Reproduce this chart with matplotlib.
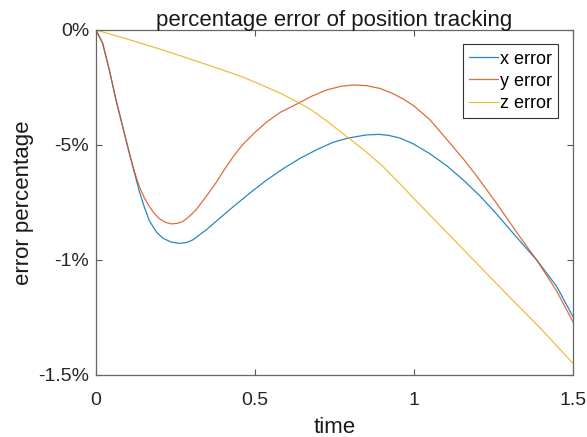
import numpy as np
import matplotlib
matplotlib.use('Agg')
import matplotlib.pyplot as plt

plt.rcParams['font.family'] = ['Liberation Sans', 'DejaVu Sans']

# values (time, error as fraction shown on the axis)
t_x = [0, 0.021, 0.042, 0.063, 0.084, 0.105, 0.12, 0.136, 0.152, 0.168, 0.19, 0.21, 0.236, 0.262,
       0.285, 0.304, 0.346, 0.377, 0.432, 0.485, 0.537, 0.59, 0.642, 0.695, 0.746, 0.793, 0.851,
       0.89, 0.92, 0.956, 0.998, 1.05, 1.103, 1.155, 1.208, 1.26, 1.312, 1.386, 1.449, 1.5]
x_err = [0, -0.058, -0.174, -0.304, -0.42, -0.536, -0.615, -0.7, -0.77, -0.83, -0.878, -0.905, -0.922, -0.928,
         -0.924, -0.913, -0.87, -0.833, -0.768, -0.708, -0.652, -0.602, -0.558, -0.52, -0.488, -0.47, -0.456,
         -0.454, -0.458, -0.47, -0.495, -0.538, -0.59, -0.652, -0.722, -0.80, -0.884, -1.0, -1.115, -1.246]

t_y = [0, 0.021, 0.042, 0.063, 0.084, 0.105, 0.12, 0.136, 0.152, 0.168, 0.185, 0.199, 0.218, 0.236,
       0.255, 0.273, 0.294, 0.314, 0.335, 0.356, 0.377, 0.40, 0.432, 0.46, 0.50, 0.537, 0.58, 0.636,
       0.68, 0.725, 0.77, 0.809, 0.85, 0.893, 0.93, 0.966, 1.0, 1.05, 1.1, 1.155, 1.2, 1.26,
       1.333, 1.386, 1.449, 1.5]
y_err = [0, -0.058, -0.174, -0.304, -0.42, -0.536, -0.612, -0.68, -0.73, -0.768, -0.80, -0.82, -0.836, -0.843,
         -0.841, -0.833, -0.81, -0.783, -0.745, -0.706, -0.665, -0.615, -0.55, -0.50, -0.445, -0.40, -0.358, -0.319,
         -0.287, -0.261, -0.245, -0.239, -0.242, -0.254, -0.274, -0.30, -0.33, -0.39, -0.47, -0.56, -0.64, -0.754,
         -0.899, -1.0, -1.135, -1.268]

t_z = [0, 0.1, 0.189, 0.25, 0.3, 0.39, 0.453, 0.516, 0.58, 0.636, 0.68, 0.725, 0.793, 0.85,
       0.9, 0.95, 1.0, 1.1, 1.2, 1.3, 1.4, 1.5]
z_err = [0, -0.04, -0.078, -0.105, -0.128, -0.17, -0.2, -0.236, -0.275, -0.315, -0.35, -0.395, -0.468, -0.53,
         -0.59, -0.66, -0.733, -0.875, -1.018, -1.16, -1.30, -1.449]

yticks = [0, -0.5, -1, -1.5]
ytick_labels = ['0%', '-5%', '-1%', '-1.5%']
xticks = [0, 0.5, 1, 1.5]
xtick_labels = ['0', '0.5', '1', '1.5']

fig = plt.figure(figsize=(5.87, 4.37), dpi=100)
ax = fig.add_axes([0.1635, 0.1419, 0.8125, 0.7895])

ax.plot(t_x, x_err, color='#0072BD', lw=0.9, alpha=0.85, label='x error')
ax.plot(t_y, y_err, color='#D95319', lw=0.9, alpha=0.85, label='y error')
ax.plot(t_z, z_err, color='#EDB120', lw=0.9, alpha=0.85, label='z error')

ax.set_xlim(0, 1.5)
ax.set_ylim(-1.5, 0)
ax.set_xticks(xticks)
ax.set_xticklabels(xtick_labels)
ax.set_yticks(yticks)
ax.set_yticklabels(ytick_labels)
ax.tick_params(direction='in', length=4, width=0.8, colors='#555555',
               labelcolor='#262626', labelsize=14, top=True, right=True)
ax.tick_params(axis='x', pad=12)
ax.tick_params(axis='y', pad=5)
for s in ax.spines.values():
    s.set_color('#666666')
    s.set_linewidth(0.9)

ax.set_title('percentage error of position tracking', fontsize=16, color='#1a1a1a', pad=3)
ax.set_xlabel('time', fontsize=16, color='#1a1a1a', labelpad=6)
ax.set_ylabel('error percentage', fontsize=16, color='#1a1a1a', labelpad=3)

leg = ax.legend(loc='upper right', fontsize=13, fancybox=False, framealpha=1,
                edgecolor='#333333', borderpad=0.35, labelspacing=0.28,
                handlelength=1.6, handletextpad=0.12, borderaxespad=0.8)
leg.get_frame().set_linewidth(0.8)

fig.savefig('out.png', dpi=100)
